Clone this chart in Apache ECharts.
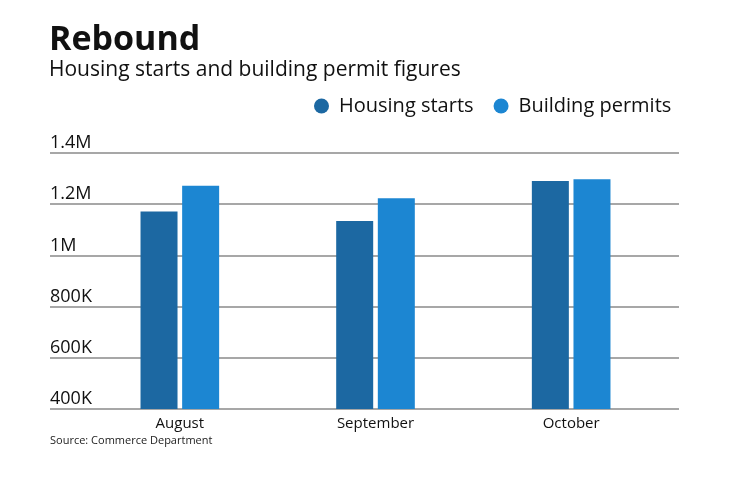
<!doctype html>
<html>
<head>
    <meta charset="utf-8">
    <title>Rebound</title>
    <script type="text/javascript" src="https://cdn.jsdelivr.net/npm/echarts@6/dist/echarts.min.js"></script>
    <style>
        html, body { margin: 0; padding: 0; background: #fff; }
        #container { width: 740px; height: 482px; }
    </style>
</head>
<body>
<div id="container"></div>
<script type="text/javascript">
    // data
    var months = ['August', 'September', 'October'];
    var housingStarts = [1171000, 1134000, 1291000];
    var buildingPermits = [1272000, 1223000, 1297000];
    var yTicks = [400000, 600000, 800000, 1000000, 1200000, 1400000];

    var font = 'Open Sans';
    var darkBlue = '#1c68a2';
    var lightBlue = '#1c86d2';

    function fmt(v) {
        if (v >= 1000000) return (v / 1000000) + 'M';
        return (v / 1000) + 'K';
    }

    var dom = document.getElementById('container');
    var myChart = echarts.init(dom);

    var option = {
        backgroundColor: '#fff',
        animation: false,
        title: {
            text: 'Rebound',
            subtext: 'Housing starts and building permit figures',
            left: 49,
            top: 23,
            padding: 0,
            itemGap: 2,
            textStyle: { fontFamily: font, fontWeight: 'bold', fontSize: 34, color: '#111', lineHeight: 35 },
            subtextStyle: { fontFamily: font, fontSize: 21, color: '#111', lineHeight: 21 }
        },
        legend: {
            left: 314,
            top: 96,
            padding: 0,
            itemGap: 20,
            itemWidth: 15,
            itemHeight: 15,
            icon: 'circle',
            textStyle: { fontFamily: font, fontSize: 20, color: '#111', padding: [0, 0, 0, 5] },
            data: ['Housing starts', 'Building permits']
        },
        graphic: [{
            type: 'text',
            left: 50,
            top: 435,
            style: { text: 'Source: Commerce Department', fontFamily: font, fontSize: 11, fill: '#222' }
        }],
        grid: [
            { left: 50, top: 153, width: 629, height: 256 },
            { left: 82, top: 153, width: 587, height: 256 }
        ],
        xAxis: [
            { type: 'category', gridIndex: 0, data: months, show: false },
            {
                type: 'category', gridIndex: 1, data: months,
                axisLine: { show: false },
                axisTick: { show: false },
                axisLabel: { fontFamily: font, fontSize: 15, color: '#111', margin: 7 }
            }
        ],
        yAxis: [
            {
                type: 'value', gridIndex: 0,
                min: yTicks[0], max: yTicks[yTicks.length - 1], interval: 200000,
                axisLine: { show: false },
                axisTick: { show: false },
                splitLine: { lineStyle: { color: '#8a8a8a', width: 1.5 } },
                axisLabel: {
                    inside: true, margin: 0, align: 'left', verticalAlign: 'bottom',
                    fontFamily: font, fontSize: 18, color: '#111', lineHeight: 20,
                    formatter: fmt
                }
            },
            {
                type: 'value', gridIndex: 1, show: false,
                min: yTicks[0], max: yTicks[yTicks.length - 1], interval: 200000,
                splitLine: { show: false }
            }
        ],
        series: [
            {
                name: 'Housing starts', type: 'bar', xAxisIndex: 1, yAxisIndex: 1,
                data: housingStarts, barWidth: 37, barGap: '12.5%',
                itemStyle: { color: darkBlue }
            },
            {
                name: 'Building permits', type: 'bar', xAxisIndex: 1, yAxisIndex: 1,
                data: buildingPermits, barWidth: 37, barGap: '12.5%',
                itemStyle: { color: lightBlue }
            }
        ]
    };

    myChart.setOption(option, true);
</script>
</body>
</html>
